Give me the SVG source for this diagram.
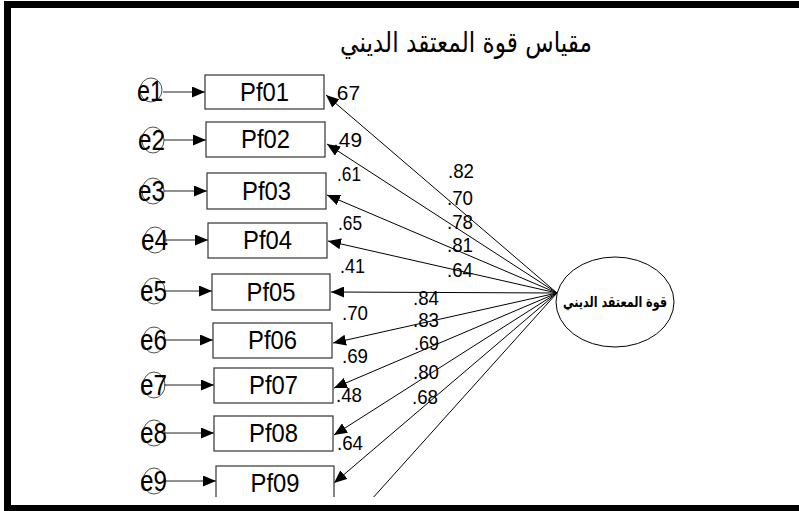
<svg xmlns="http://www.w3.org/2000/svg" width="799" height="511" viewBox="0 0 799 511">
<style>
.box{fill:#fff;stroke:#333;stroke-width:1.2}
.err{fill:none;stroke:#222;stroke-width:0.8}
.lbl{font-family:"Liberation Sans",Arial,sans-serif;font-size:25px;fill:#000;text-anchor:middle}
.elbl{font-family:"Liberation Sans",Arial,sans-serif;font-size:29px;fill:#000}
.num{font-family:"Liberation Sans",Arial,sans-serif;font-size:21px;fill:#000}
.con{stroke:#000;stroke-width:1;fill:none}
.econ{stroke:#222;stroke-width:1.2;fill:none}
.ar{font-family:"DejaVu Sans","Noto Sans",sans-serif;fill:#000}
</style>
<defs>
<marker id="ah" markerUnits="userSpaceOnUse" markerWidth="13" markerHeight="11" refX="13" refY="5.5" orient="auto">
<path d="M0,0 L13,5.5 L0,11 z" fill="#000"/>
</marker>
<clipPath id="clip"><rect x="0" y="0" width="799" height="497"/></clipPath>
</defs>
<rect x="0" y="0" width="799" height="511" fill="#fff"/>
<rect x="7.5" y="4.5" width="800" height="504" fill="none" stroke="#000" stroke-width="7"/>

<text id="title" class="ar" x="466" y="52" font-size="28" text-anchor="middle" textLength="252" lengthAdjust="spacingAndGlyphs">مقياس قوة المعتقد الديني</text>

<g clip-path="url(#clip)">
<g id="labels-left">
<text class="num" x="331" y="100" textLength="29" lengthAdjust="spacingAndGlyphs">.67</text>
<text class="num" x="333" y="147" textLength="29" lengthAdjust="spacingAndGlyphs">.49</text>
<text class="num" x="337" y="181" textLength="24" lengthAdjust="spacingAndGlyphs">.61</text>
<text class="num" x="338" y="230" textLength="24" lengthAdjust="spacingAndGlyphs">.65</text>
<text class="num" x="340" y="273" textLength="25" lengthAdjust="spacingAndGlyphs">.41</text>
<text class="num" x="342" y="320" textLength="26" lengthAdjust="spacingAndGlyphs">.70</text>
<text class="num" x="342" y="363" textLength="26" lengthAdjust="spacingAndGlyphs">.69</text>
<text class="num" x="336" y="402" textLength="26" lengthAdjust="spacingAndGlyphs">.48</text>
<text class="num" x="337" y="450" textLength="26" lengthAdjust="spacingAndGlyphs">.64</text>
</g>
<g id="labels-right">
<text class="num" x="448" y="178" textLength="26" lengthAdjust="spacingAndGlyphs">.82</text>
<text class="num" x="447" y="205" textLength="26" lengthAdjust="spacingAndGlyphs">.70</text>
<text class="num" x="447" y="229" textLength="26" lengthAdjust="spacingAndGlyphs">.78</text>
<text class="num" x="447" y="252" textLength="26" lengthAdjust="spacingAndGlyphs">.81</text>
<text class="num" x="447" y="277" textLength="26" lengthAdjust="spacingAndGlyphs">.64</text>
<text class="num" x="413" y="305" textLength="26" lengthAdjust="spacingAndGlyphs">.84</text>
<text class="num" x="413" y="327" textLength="26" lengthAdjust="spacingAndGlyphs">.83</text>
<text class="num" x="414" y="350" textLength="25" lengthAdjust="spacingAndGlyphs">.69</text>
<text class="num" x="413" y="379" textLength="26" lengthAdjust="spacingAndGlyphs">.80</text>
<text class="num" x="412" y="404" textLength="26" lengthAdjust="spacingAndGlyphs">.68</text>
</g>

<g id="connectors">
<line class="con" x1="557" y1="293" x2="326" y2="95" marker-end="url(#ah)"/>
<line class="con" x1="557" y1="293" x2="327" y2="144" marker-end="url(#ah)"/>
<line class="con" x1="557" y1="293" x2="327" y2="195" marker-end="url(#ah)"/>
<line class="con" x1="557" y1="293" x2="328" y2="241" marker-end="url(#ah)"/>
<line class="con" x1="557" y1="293" x2="331" y2="292" marker-end="url(#ah)"/>
<line class="con" x1="557" y1="293" x2="333" y2="343" marker-end="url(#ah)"/>
<line class="con" x1="557" y1="293" x2="334" y2="388" marker-end="url(#ah)"/>
<line class="con" x1="557" y1="293" x2="334" y2="435" marker-end="url(#ah)"/>
<line class="con" x1="557" y1="293" x2="334" y2="483" marker-end="url(#ah)"/>
<line class="con" x1="557" y1="293" x2="362" y2="510"/>
<line class="econ" x1="163" y1="92" x2="205" y2="92" marker-end="url(#ah)"/>
<line class="econ" x1="164" y1="140" x2="206" y2="140" marker-end="url(#ah)"/>
<line class="econ" x1="164" y1="191" x2="207" y2="191" marker-end="url(#ah)"/>
<line class="econ" x1="164" y1="240" x2="208" y2="240" marker-end="url(#ah)"/>
<line class="econ" x1="164" y1="291" x2="212" y2="291" marker-end="url(#ah)"/>
<line class="econ" x1="164" y1="340" x2="213" y2="340" marker-end="url(#ah)"/>
<line class="econ" x1="164" y1="385" x2="214" y2="385" marker-end="url(#ah)"/>
<line class="econ" x1="164" y1="433" x2="214" y2="433" marker-end="url(#ah)"/>
<line class="econ" x1="164" y1="481" x2="216" y2="481" marker-end="url(#ah)"/>
</g>

<g id="Pf01"><rect class="box" x="205" y="75" width="119" height="34"/><text class="lbl" x="264.5" y="101" textLength="49" lengthAdjust="spacingAndGlyphs">Pf01</text></g>
<g id="Pf02"><rect class="box" x="206" y="122" width="119" height="35"/><text class="lbl" x="265.5" y="148" textLength="49" lengthAdjust="spacingAndGlyphs">Pf02</text></g>
<g id="Pf03"><rect class="box" x="207" y="173" width="119" height="36"/><text class="lbl" x="266.5" y="200" textLength="49" lengthAdjust="spacingAndGlyphs">Pf03</text></g>
<g id="Pf04"><rect class="box" x="208" y="223" width="119" height="35"/><text class="lbl" x="267.5" y="249" textLength="49" lengthAdjust="spacingAndGlyphs">Pf04</text></g>
<g id="Pf05"><rect class="box" x="212" y="274" width="118" height="36"/><text class="lbl" x="271" y="301" textLength="49" lengthAdjust="spacingAndGlyphs">Pf05</text></g>
<g id="Pf06"><rect class="box" x="213" y="323" width="119" height="35"/><text class="lbl" x="272.5" y="349" textLength="49" lengthAdjust="spacingAndGlyphs">Pf06</text></g>
<g id="Pf07"><rect class="box" x="214" y="368" width="119" height="35"/><text class="lbl" x="273.5" y="394" textLength="49" lengthAdjust="spacingAndGlyphs">Pf07</text></g>
<g id="Pf08"><rect class="box" x="214" y="416" width="119" height="35"/><text class="lbl" x="273.5" y="442" textLength="49" lengthAdjust="spacingAndGlyphs">Pf08</text></g>
<g id="Pf09"><rect class="box" x="216" y="466" width="118" height="35"/><text class="lbl" x="275" y="492" textLength="49" lengthAdjust="spacingAndGlyphs">Pf09</text></g>

<g id="e1"><ellipse class="err" cx="151" cy="90" rx="11" ry="12"/><text class="elbl" x="137" y="101" textLength="26" lengthAdjust="spacingAndGlyphs">e1</text></g>
<g id="e2"><ellipse class="err" cx="153" cy="140" rx="11" ry="13"/><text class="elbl" x="138" y="150" textLength="27" lengthAdjust="spacingAndGlyphs">e2</text></g>
<g id="e3"><ellipse class="err" cx="153" cy="191" rx="11" ry="13"/><text class="elbl" x="138" y="201" textLength="27" lengthAdjust="spacingAndGlyphs">e3</text></g>
<g id="e4"><ellipse class="err" cx="155" cy="240" rx="11" ry="13"/><text class="elbl" x="141" y="250" textLength="27" lengthAdjust="spacingAndGlyphs">e4</text></g>
<g id="e5"><ellipse class="err" cx="154" cy="291" rx="11" ry="13"/><text class="elbl" x="140" y="301" textLength="27" lengthAdjust="spacingAndGlyphs">e5</text></g>
<g id="e6"><ellipse class="err" cx="154" cy="340" rx="11" ry="13"/><text class="elbl" x="140" y="350" textLength="27" lengthAdjust="spacingAndGlyphs">e6</text></g>
<g id="e7"><ellipse class="err" cx="154" cy="385" rx="11" ry="13"/><text class="elbl" x="140" y="395" textLength="27" lengthAdjust="spacingAndGlyphs">e7</text></g>
<g id="e8"><ellipse class="err" cx="154" cy="433" rx="11" ry="13"/><text class="elbl" x="140" y="443" textLength="27" lengthAdjust="spacingAndGlyphs">e8</text></g>
<g id="e9"><ellipse class="err" cx="154" cy="481" rx="11" ry="13"/><text class="elbl" x="140" y="491" textLength="27" lengthAdjust="spacingAndGlyphs">e9</text></g>
</g>

<g id="latent">
<ellipse cx="615" cy="302" rx="59" ry="45" fill="#fff" stroke="#000" stroke-width="1"/>
<text class="ar" x="615" y="307" font-size="15" font-weight="bold" text-anchor="middle" textLength="104" lengthAdjust="spacingAndGlyphs">قوة المعتقد الديني</text>
</g>
</svg>
